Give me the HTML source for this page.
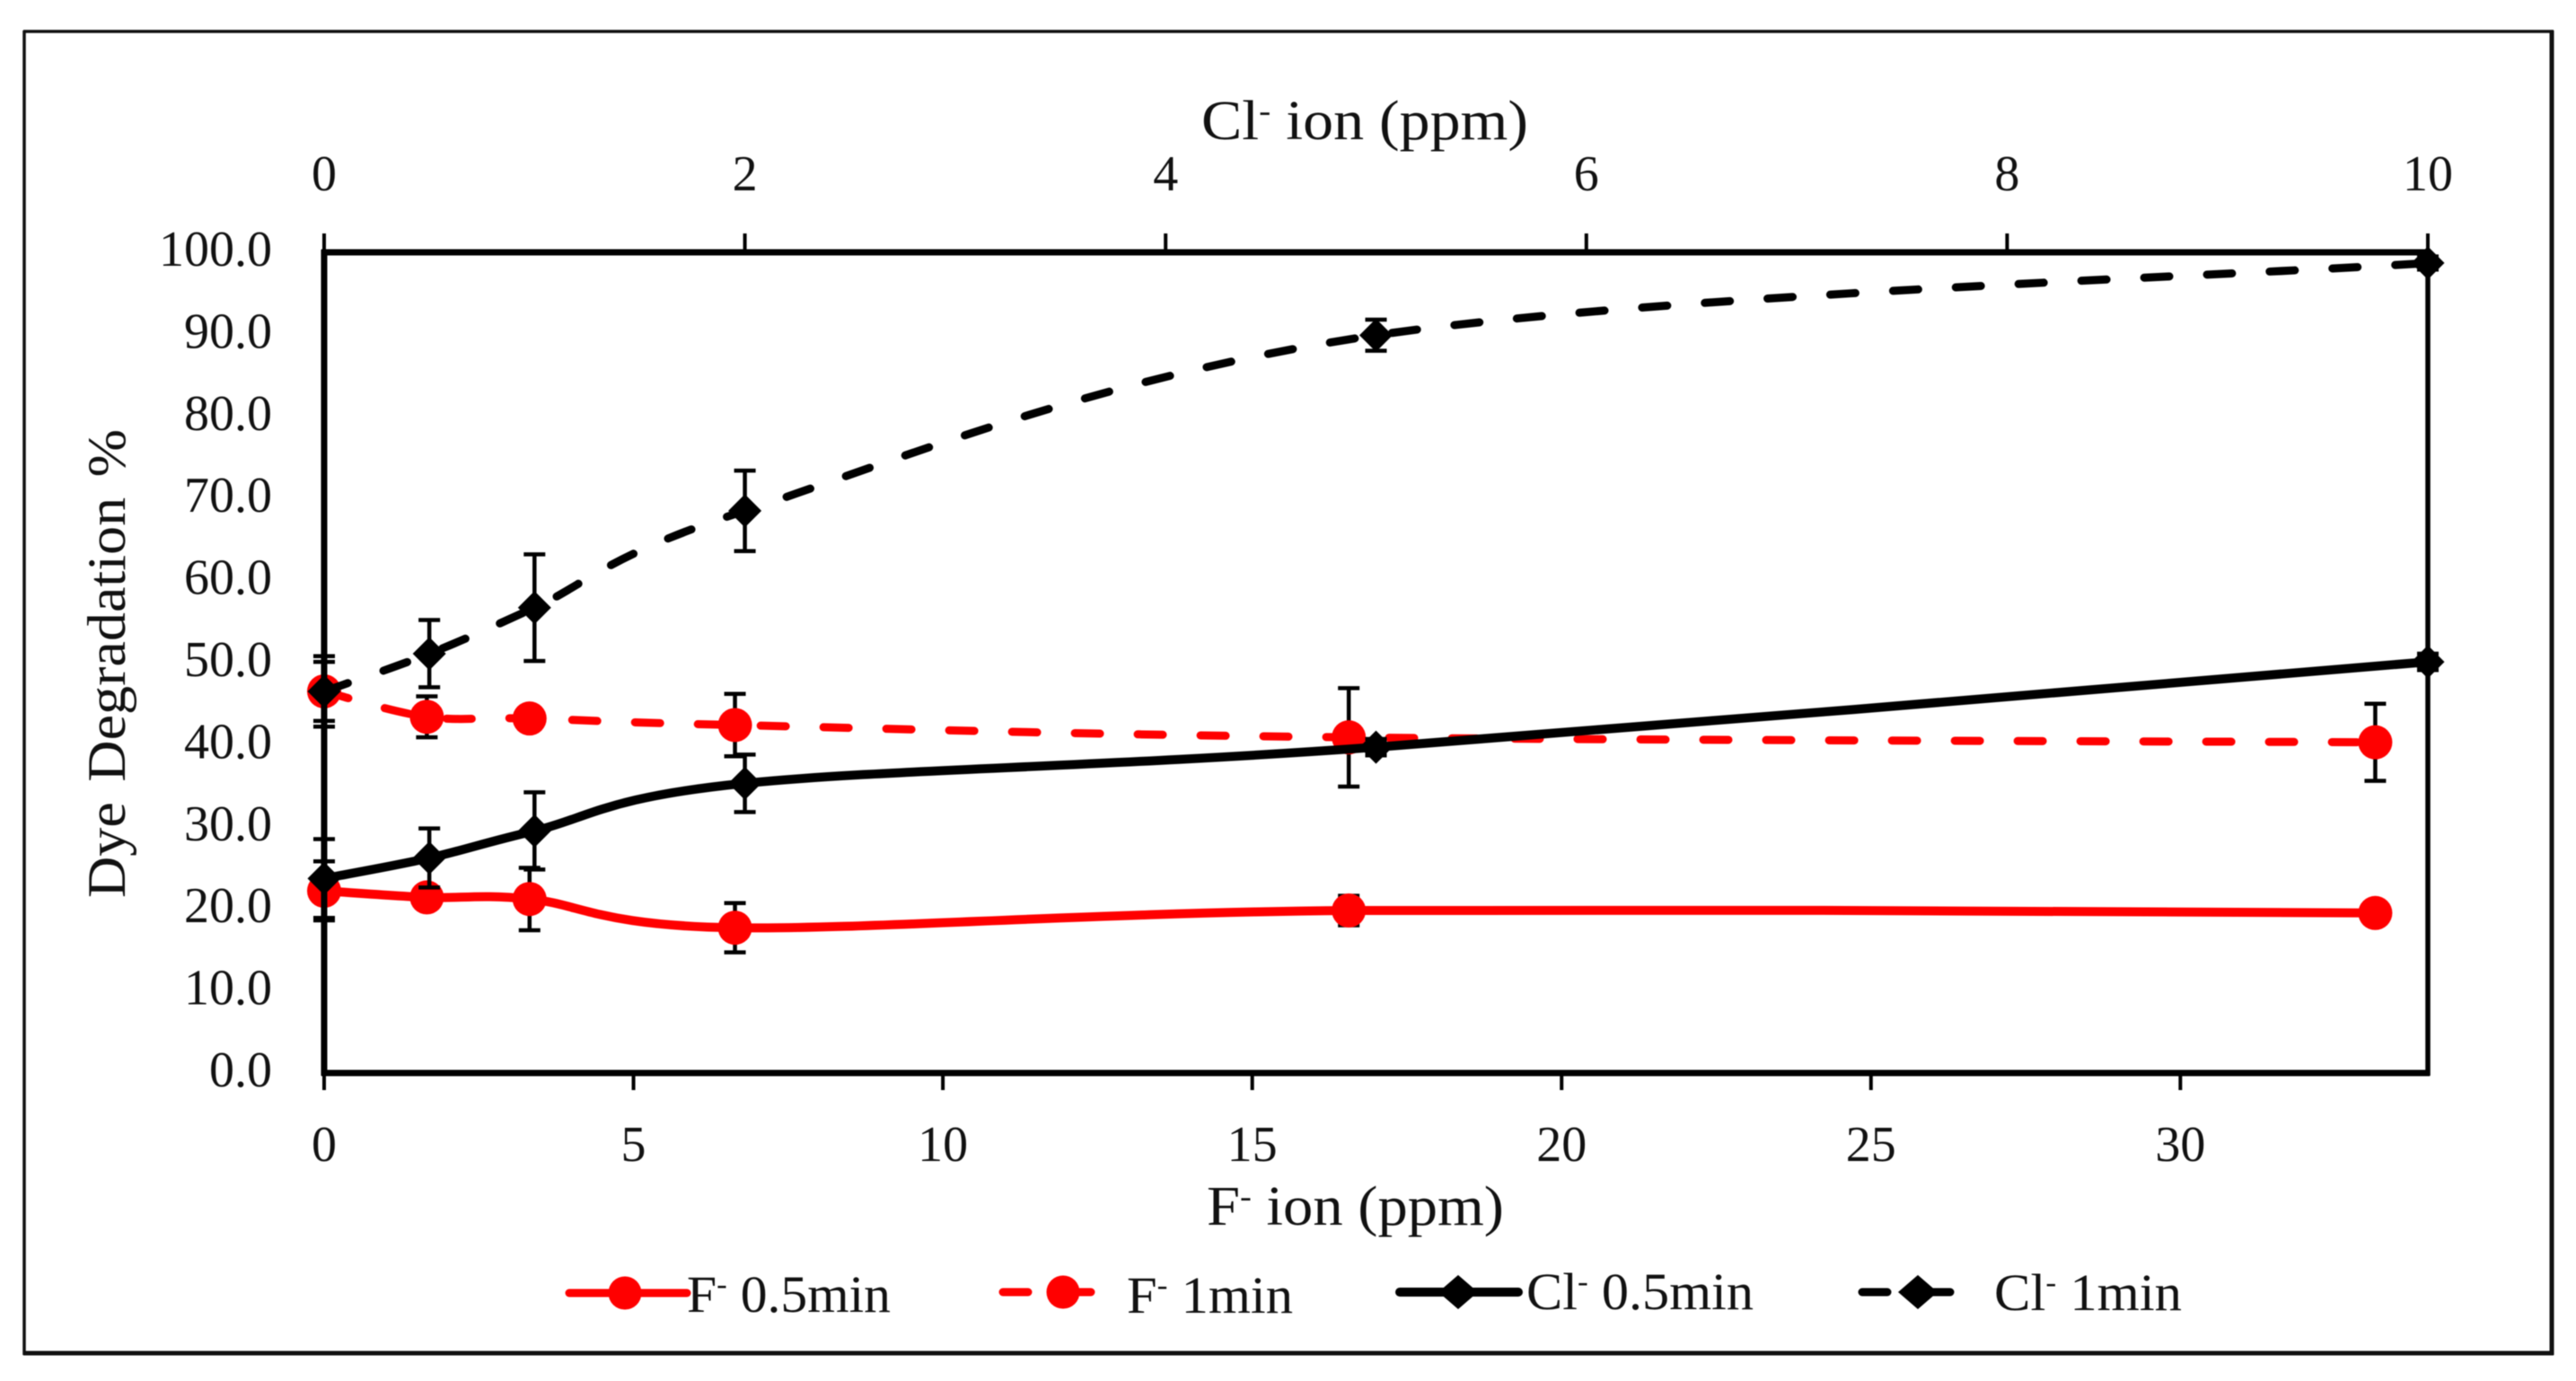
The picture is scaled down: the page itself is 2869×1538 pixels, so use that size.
<!DOCTYPE html>
<html lang="en">
<head>
<meta charset="utf-8">
<title>Dye Degradation vs F- and Cl- ion concentration</title>
<style>
html,body{margin:0;padding:0;background:#fff;}
svg{display:block;filter:blur(0.6px);}
text{font-family:"Liberation Serif",serif;fill:#111;}
</style>
</head>
<body>
<svg id="chart" xmlns="http://www.w3.org/2000/svg" width="2869" height="1538" viewBox="0 0 2869 1538">
  <rect x="0" y="0" width="2869" height="1538" fill="#fff"/>
  <g stroke="#111" fill="none">
    <line x1="26" y1="35" x2="2844" y2="35" stroke-width="3.5"/>
    <line x1="27" y1="34" x2="27" y2="1509" stroke-width="3.5"/>
    <line x1="2842" y1="34" x2="2842" y2="1509" stroke-width="5"/>
    <line x1="26" y1="1507" x2="2844" y2="1507" stroke-width="5"/>
  </g>
  <g id="plot"></g>
  <g id="axes"></g>
  <text x="1338" y="155" font-size="62" textLength="364" lengthAdjust="spacingAndGlyphs">Cl<tspan font-size="36" dy="-20">-</tspan><tspan dy="20"> ion (ppm)</tspan></text>
  <text x="1344" y="1364" font-size="62" textLength="331" lengthAdjust="spacingAndGlyphs">F<tspan font-size="36" dy="-20">-</tspan><tspan dy="20"> ion (ppm)</tspan></text>
  <text transform="translate(139,1000) rotate(-90)" font-size="60" textLength="522" lengthAdjust="spacingAndGlyphs" word-spacing="6">Dye Degradation %</text>
  <g>
    <g>
      <line x1="634" y1="1440" x2="765" y2="1440" stroke="#f00" stroke-width="9" stroke-linecap="round"/>
      <circle cx="696" cy="1440" r="18.5" fill="#f00"/>
      <text x="765" y="1461" font-size="58" textLength="227" lengthAdjust="spacingAndGlyphs">F<tspan font-size="34" dy="-20">-</tspan><tspan dy="20"> 0.5min</tspan></text>
    </g>
    <g>
      <line x1="1117" y1="1439" x2="1218" y2="1439" stroke="#f00" stroke-width="9" stroke-linecap="round" stroke-dasharray="28 42"/>
      <circle cx="1184" cy="1439" r="18.5" fill="#f00"/>
      <text x="1255" y="1462" font-size="58" textLength="185" lengthAdjust="spacingAndGlyphs">F<tspan font-size="34" dy="-20">-</tspan><tspan dy="20"> 1min</tspan></text>
    </g>
    <g>
      <line x1="1559" y1="1439" x2="1691" y2="1439" stroke="#000" stroke-width="10" stroke-linecap="round"/>
      <polygon points="1624,1420 1646,1439 1624,1458 1602,1439" fill="#000"/>
      <text x="1700" y="1458" font-size="58" textLength="253" lengthAdjust="spacingAndGlyphs">Cl<tspan font-size="34" dy="-20">-</tspan><tspan dy="20"> 0.5min</tspan></text>
    </g>
    <g>
      <line x1="2074" y1="1439" x2="2174" y2="1439" stroke="#000" stroke-width="9" stroke-linecap="round" stroke-dasharray="28 42"/>
      <polygon points="2136,1420 2158,1439 2136,1458 2114,1439" fill="#000"/>
      <text x="2221" y="1459" font-size="58" textLength="209" lengthAdjust="spacingAndGlyphs">Cl<tspan font-size="34" dy="-20">-</tspan><tspan dy="20"> 1min</tspan></text>
    </g>
  </g>
</svg>
<script>
// ---- data ----
const fConc = [0, 1.66, 3.32, 6.64, 16.56, 33.15];
const clConc = [0, 0.5, 1, 2, 5, 10];
const fHalfMin = [22.2, 21.4, 21.2, 17.7, 19.8, 19.5];
const fHalfMinErr = [3.6, 1.2, 3.8, 3.0, 1.8, 1.0];
const fOneMin = [46.5, 43.4, 43.2, 42.4, 40.9, 40.3];
const fOneMinErr = [4.3, 2.5, 1.0, 3.8, 6.0, 4.7];
const clHalfMin = [23.7, 26.2, 29.5, 35.3, 39.7, 50.1];
const clHalfMinErr = [4.8, 3.6, 4.7, 3.5, 1.0, 1.0];
const clOneMin = [46.5, 51.1, 56.7, 68.5, 89.9, 98.7];
const clOneMinErr = [3.6, 4.1, 6.5, 4.9, 1.9, 0.8];
const bottomTicks = [0, 5, 10, 15, 20, 25, 30];
const topTicks = [0, 2, 4, 6, 8, 10];
const yTicks = [0, 10, 20, 30, 40, 50, 60, 70, 80, 90, 100];

// ---- scales ----
const plotL = 361, plotR = 2704, plotT = 281, plotB = 1195;
const fMax = 34, clMax = 10, yMax = 100;
function xF(v) { return plotL + (v / fMax) * (plotR - plotL); }
function xCl(v) { return plotL + (v / clMax) * (plotR - plotL); }
function yV(v) { return plotB - (v / yMax) * (plotB - plotT); }

const NS = 'http://www.w3.org/2000/svg';
function mk(tag, attrs, parent) {
  const el = document.createElementNS(NS, tag);
  for (const k in attrs) el.setAttribute(k, attrs[k]);
  parent.appendChild(el);
  return el;
}
function smoothPath(pts) {
  let d = 'M' + pts[0][0] + ' ' + pts[0][1];
  for (let i = 0; i < pts.length - 1; i++) {
    const p0 = pts[Math.max(i - 1, 0)], p1 = pts[i], p2 = pts[i + 1], p3 = pts[Math.min(i + 2, pts.length - 1)];
    const c1x = p1[0] + (p2[0] - p0[0]) / 6, c1y = p1[1] + (p2[1] - p0[1]) / 6;
    const c2x = p2[0] - (p3[0] - p1[0]) / 6, c2y = p2[1] - (p3[1] - p1[1]) / 6;
    d += ' C' + c1x + ' ' + c1y + ' ' + c2x + ' ' + c2y + ' ' + p2[0] + ' ' + p2[1];
  }
  return d;
}

const axes = document.getElementById('axes');
const plot = document.getElementById('plot');

function drawSeries(name, concs, values, errs, xFn, color, dashed, shape) {
  const g = mk('g', {}, plot);
  
  
  const pts = concs.map((c, i) => [xFn(c), yV(values[i])]);
  const path = mk('path', { d: smoothPath(pts), fill: 'none', stroke: color, 'stroke-width': dashed ? 9 : 10, 'stroke-linecap': 'round' }, g);
  if (dashed) path.setAttribute('stroke-dasharray', '28 42');
  
  
  concs.forEach((c, i) => {
    const x = xFn(c), hi = yV(values[i] + errs[i]), lo = yV(values[i] - errs[i]);
    const err = mk('path', {
      d: 'M' + x + ' ' + hi + 'V' + lo + 'M' + (x - 12) + ' ' + hi + 'H' + (x + 12) + 'M' + (x - 12) + ' ' + lo + 'H' + (x + 12),
      fill: 'none', stroke: '#000', 'stroke-width': 4.5
    }, g);
    
    
  });
  concs.forEach((c, i) => {
    const x = xFn(c), y = yV(values[i]);
    let m;
    if (shape === 'circle') {
      m = mk('circle', { cx: x, cy: y, r: 19, fill: color }, g);
    } else {
      m = mk('polygon', { points: [x, y - 18.5, x + 18.5, y, x, y + 18.5, x - 18.5, y].join(' '), fill: color }, g);
    }
    
    
  });
}

// ---- axis lines ----
const frameLeft = mk('line', { x1: plotL, y1: plotT - 3, x2: plotL, y2: plotB + 3, stroke: '#000', 'stroke-width': 7 }, axes);


const frameRight = mk('line', { x1: plotR, y1: plotT - 3, x2: plotR, y2: plotB + 3, stroke: '#000', 'stroke-width': 5.5 }, axes);


const frameTop = mk('line', { x1: plotL - 3, y1: plotT, x2: plotR + 2, y2: plotT, stroke: '#000', 'stroke-width': 7 }, axes);


const frameBottom = mk('line', { x1: plotL - 3, y1: plotB, x2: plotR + 2, y2: plotB, stroke: '#000', 'stroke-width': 7 }, axes);



// ---- ticks and labels ----
bottomTicks.forEach(t => {
  const x = xF(t);
  const tick = mk('line', { x1: x, y1: plotB, x2: x, y2: plotB + 19, stroke: '#000', 'stroke-width': 4 }, axes);
  
  
  const label = mk('text', { x: x, y: 1293, 'font-size': 56, 'text-anchor': 'middle' }, axes);
  label.textContent = String(t);
  
  
});
topTicks.forEach(t => {
  const x = xCl(t);
  const tick = mk('line', { x1: x, y1: plotT, x2: x, y2: plotT - 21, stroke: '#000', 'stroke-width': 4 }, axes);
  
  
  const label = mk('text', { x: x, y: 212, 'font-size': 56, 'text-anchor': 'middle' }, axes);
  label.textContent = String(t);
  
  
});
yTicks.forEach(t => {
  const label = mk('text', { x: 303, y: yV(t) + 15, 'font-size': 56, 'text-anchor': 'end' }, axes);
  label.textContent = t.toFixed(1);
  
  
});

// ---- series ----
drawSeries('f-0-5min', fConc, fHalfMin, fHalfMinErr, xF, '#f00', false, 'circle');
drawSeries('f-1min', fConc, fOneMin, fOneMinErr, xF, '#f00', true, 'circle');
drawSeries('cl-0-5min', clConc, clHalfMin, clHalfMinErr, xCl, '#000', false, 'diamond');
drawSeries('cl-1min', clConc, clOneMin, clOneMinErr, xCl, '#000', true, 'diamond');
</script>
</body>
</html>
